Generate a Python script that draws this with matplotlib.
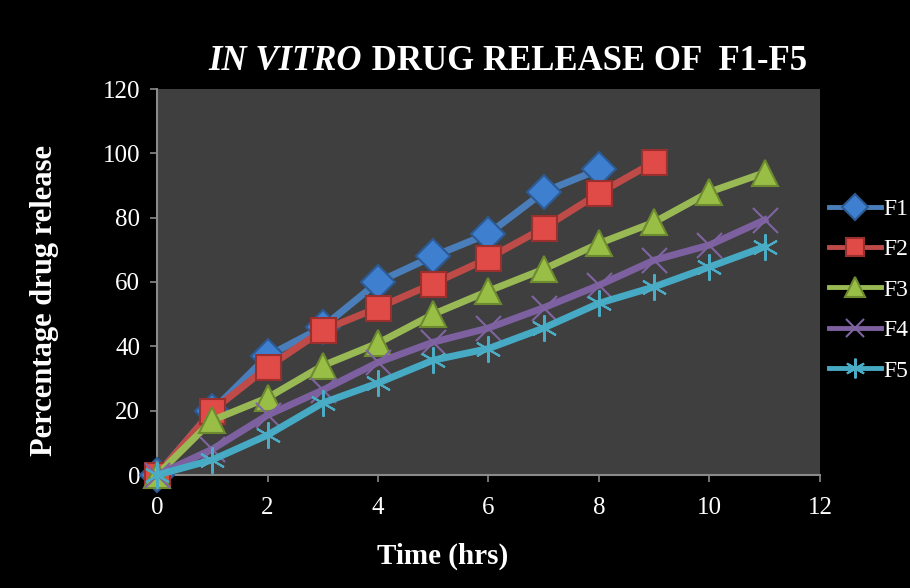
import matplotlib
matplotlib.use('Agg')
import matplotlib.pyplot as plt

# release data (% drug released)
time_hrs = [0, 1, 2, 3, 4, 5, 6, 7, 8, 9, 10, 11]
f1 = [0, 20, 37, 46, 60, 68, 75, 88, 95]
f2 = [0, 20, 33.5, 45, 52, 59.5, 67.4, 76.8, 87.6, 97.3]
f3 = [0, 17, 24, 34, 41, 50, 57.2, 64, 72, 78.6, 88, 94]
f4 = [0, 8, 18.6, 26.4, 35, 41.3, 45.7, 52, 59, 66.8, 71.5, 79.3]
f5 = [0, 4.7, 12.4, 22.4, 28.6, 35.7, 39.3, 45.7, 53.4, 58.5, 64.7, 71]

labels = ['F1', 'F2', 'F3', 'F4', 'F5']
series = [f1, f2, f3, f4, f5]
line_colors = ['#4A7EBB', '#BE4B48', '#98B954', '#7D60A0', '#46AAC5']
face_colors = ['#3F7FD0', '#E04A47', '#98BE46', '#8064A2', '#4BACC6']
edge_colors = ['#2C5A92', '#9A302E', '#6E8A30', '#8064A2', '#4BACC6']
markers = ['D', 's', '^', 'x', (6, 2, 0)]
msizes = [17, 18, 19, 18, 19]

plt.rcParams['font.family'] = ['Liberation Serif', 'DejaVu Serif']

fig = plt.figure(figsize=(9.1, 5.88), dpi=100, facecolor='black')
ax = fig.add_axes([157 / 910, 1 - 475 / 588, (820 - 157) / 910, (475 - 89) / 588])
ax.set_facecolor('#3F3F3F')

for i, ys in enumerate(series):
    ax.plot(time_hrs[:len(ys)], ys,
            label=labels[i],
            color=line_colors[i],
            linewidth=5,
            marker=markers[i],
            markersize=msizes[i],
            markerfacecolor=face_colors[i],
            markeredgecolor=edge_colors[i],
            markeredgewidth=1.5,
            clip_on=False, zorder=3 + i)

ax.set_xlim(0, 12)
ax.set_ylim(0, 120)
ax.set_xticks(range(0, 13, 2))
ax.set_yticks(range(0, 121, 20))

for side in ['top', 'right']:
    ax.spines[side].set_visible(False)
for side in ['left', 'bottom']:
    ax.spines[side].set_color('#8A8A8A')
    ax.spines[side].set_linewidth(1.5)
ax.tick_params(colors='#8A8A8A', direction='out', length=5, width=1.2,
               labelcolor='white', labelsize=18)
ax.tick_params(axis='x', pad=11)
ax.tick_params(axis='y', pad=7)

fig.text(45 / 910, 1 - 300 / 588, 'Percentage drug release', color='white',
         fontsize=22, fontweight='bold', rotation=90, ha='center', va='center')
fig.text(443 / 910, 1 - 556 / 588, 'Time (hrs)', color='white',
         fontsize=21, fontweight='bold', ha='center', va='center')

# title: italic part, then the rest right after it
t1 = fig.text(208 / 910, 1 - 70 / 588, 'IN VITRO', color='white', fontsize=25,
              fontweight='bold', fontstyle='italic', ha='left', va='baseline')
ax.annotate(' DRUG RELEASE OF  F1-F5', xy=(1, 0), xycoords=t1,
            xytext=(1, 0), textcoords='offset points',
            color='white', fontsize=25, fontweight='bold',
            ha='left', va='bottom', annotation_clip=False)

leg = fig.legend(loc='center left', bbox_to_anchor=(829 / 910, 1 - 290 / 588),
                 frameon=False, fontsize=17, handlelength=2.2,
                 handletextpad=0.1, labelspacing=0.8, markerscale=0.75,
                 borderaxespad=0, borderpad=0)
for txt in leg.get_texts():
    txt.set_color('white')
for h in leg.get_lines():
    h.set_linewidth(3.5)

plt.savefig('out.png', dpi=100, facecolor='black')
